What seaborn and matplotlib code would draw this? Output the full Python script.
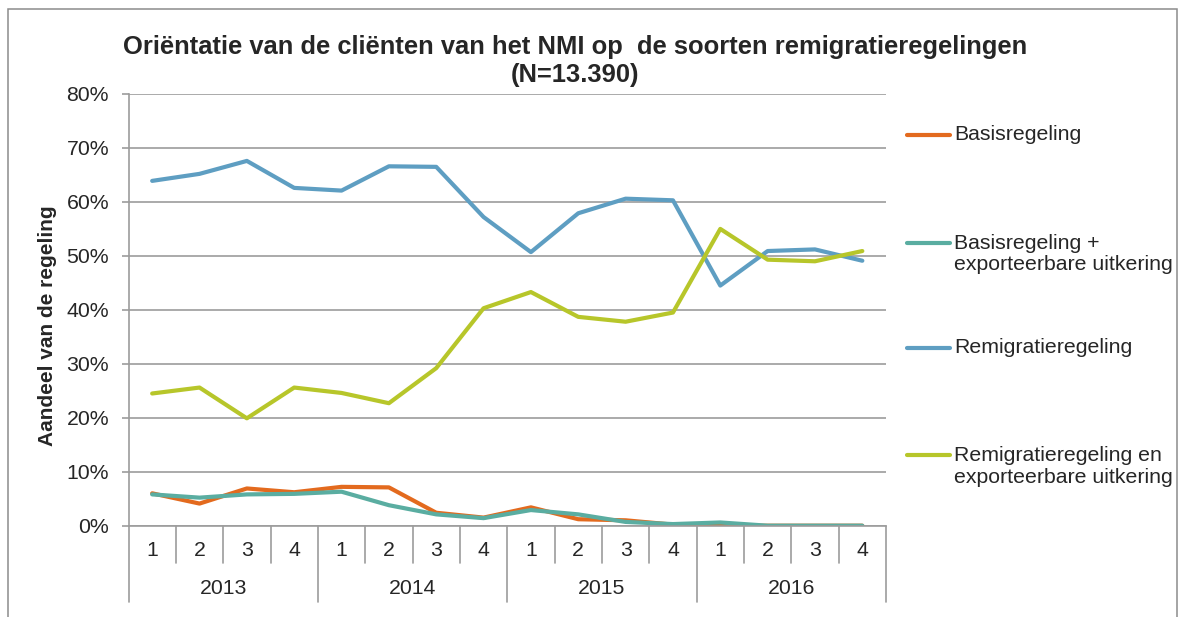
import matplotlib
matplotlib.use("Agg")
import matplotlib.pyplot as plt
import seaborn as sns
import pandas as pd
from matplotlib.lines import Line2D
from matplotlib.patches import Rectangle

# ---- data (in %) ----
years = ["2013", "2014", "2015", "2016"]
quarters = ["1", "2", "3", "4"]

series_names = [
    "Basisregeling",
    "Basisregeling +\nexporteerbare uitkering",
    "Remigratieregeling",
    "Remigratieregeling en\nexporteerbare uitkering",
]
basis = [6.0, 4.1, 6.9, 6.2, 7.2, 7.1, 2.4, 1.5, 3.4, 1.2, 1.0, 0.2, 0.0, 0.0, 0.0, 0.0]
basis_export = [5.8, 5.2, 5.8, 5.9, 6.3, 3.8, 2.1, 1.4, 2.9, 2.1, 0.7, 0.3, 0.6, 0.0, 0.0, 0.0]
remig = [63.9, 65.2, 67.6, 62.6, 62.1, 66.6, 66.5, 57.2, 50.7, 57.9, 60.6, 60.3, 44.5, 50.9, 51.2, 49.1]
remig_export = [24.5, 25.6, 19.9, 25.6, 24.6, 22.7, 29.2, 40.3, 43.3, 38.7, 37.8, 39.5, 55.0, 49.3, 49.0, 50.9]

colors = ["#E36A1E", "#5AADA1", "#5E9EC2", "#B7C62A"]
y_ticks = [0, 10, 20, 30, 40, 50, 60, 70, 80]

# long format for seaborn
rows = []
for name, vals in zip(series_names, [basis, basis_export, remig, remig_export]):
    for i, v in enumerate(vals):
        rows.append({"idx": i, "year": years[i // 4], "quarter": quarters[i % 4],
                     "series": name, "value": v})
df = pd.DataFrame(rows)

sns.set_style("white")
plt.rcParams["font.family"] = ["Liberation Sans", "DejaVu Sans"]
FS = 15.3

fig = plt.figure(figsize=(11.8, 6.17), dpi=100)
ax = fig.add_axes([128.5 / 1180, 1 - 525.7 / 617, (886 - 128.5) / 1180, (525.7 - 94) / 617])

sns.lineplot(data=df, x="idx", y="value", hue="series", hue_order=series_names,
             palette=dict(zip(series_names, colors)), linewidth=3, legend=False,
             sort=False, ax=ax)
for ln in ax.get_lines():
    ln.set_solid_joinstyle("round")
    ln.set_solid_capstyle("round")

grid_c = "#9C9C9C"
ax.set_xlim(-0.5, len(basis) - 0.5)
ax.set_ylim(0, 80)
ax.set_yticks(y_ticks)
ax.set_yticklabels([f"{t}%" for t in y_ticks], fontsize=FS)
ax.tick_params(axis="y", left=True, length=5, width=1.2, color=grid_c, pad=9)
ax.set_xticks([])
ax.set_xlabel("")
ax.yaxis.grid(True, color=grid_c, linewidth=1.2)
ax.set_axisbelow(True)
for s in ["top", "right"]:
    ax.spines[s].set_visible(False)
for s in ["left", "bottom"]:
    ax.spines[s].set_color(grid_c)
    ax.spines[s].set_linewidth(1.2)

ax.set_ylabel("Aandeel van de regeling", fontsize=15, fontweight="bold")
ax.yaxis.set_label_coords(-0.094, 0.4626)

# two-level category axis: quarters and years
tr = ax.get_xaxis_transform()
n = len(basis)
for b in range(n + 1):
    ybot = -0.1767 if b % 4 == 0 else -0.0864
    ax.plot([b - 0.5, b - 0.5], [0, ybot], transform=tr, color=grid_c,
            linewidth=1.2, clip_on=False)
for i in range(n):
    ax.text(i, -0.0575, quarters[i % 4], transform=tr, ha="center", va="center",
            fontsize=FS)
for k, yr in enumerate(years):
    ax.text(k * 4 + 1.5, -0.146, yr, transform=tr, ha="center", va="center",
            fontsize=FS)

# title
fig.text(575 / 1180, 1 - 61 / 617,
         "Oriëntatie van de cliënten van het NMI op  de soorten remigratieregelingen\n(N=13.390)",
         ha="center", va="center", fontsize=18.4, fontweight="bold", linespacing=1.17)

# legend (placed like the original)
leg_y = [135, 254.2, 348, 466.5]
for name, c, yy in zip(series_names, colors, leg_y):
    first = yy if "\n" not in name else yy - 11.5
    fig.add_artist(Line2D([907 / 1180, 950 / 1180], [1 - first / 617, 1 - first / 617],
                          color=c, linewidth=3, solid_capstyle="round"))
    fig.text(954 / 1180, 1 - yy / 617, name, ha="left", va="center", fontsize=FS,
             linespacing=1.14)

# outer chart border
fig.add_artist(Rectangle((7.5 / 1180, -0.05), (1176.5 - 7.5) / 1180, 1.05 - 9 / 617,
                         transform=fig.transFigure, fill=False, edgecolor="#8C8C8C",
                         linewidth=1.1))

plt.savefig("out.png", dpi=100)
plt.close()
